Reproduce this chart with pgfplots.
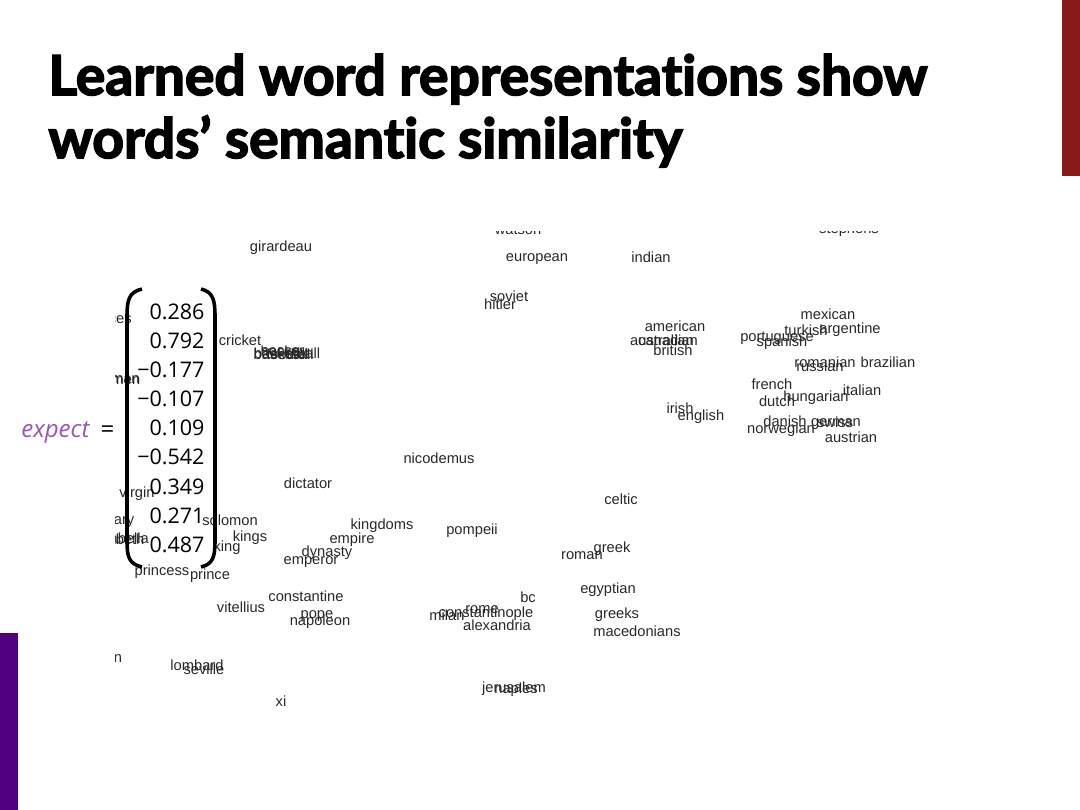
\documentclass[border=0pt]{standalone}
\usepackage{pgfplots}
\pgfplotsset{compat=1.18}
\usepackage{fontspec}
\setmainfont{Liberation Sans}
\newfontfamily\numfont{Open Sans}
\newfontfamily\titlefont[Ligatures={NoCommon}, BoldFeatures={FakeBold=3}]{Lato}
\definecolor{slidered}{RGB}{138,26,26}
\definecolor{slidepurple}{RGB}{80,0,128}
\definecolor{expectpurple}{RGB}{150,85,185}
\definecolor{wordgray}{RGB}{40,40,40}

% word positions in pixel coordinates (x, y from top)
\pgfplotstableread{
x y label
281 248 girardeau
518 230 watson
849 230 stephens
537 259 european
651 257 indian
509 296 soviet
500 304 hitler
675 326 american
662 340 australian
668 340 canadian
673 350 british
777 338 portuguese
782 343 spanish
828 314 mexican
806 330 turkish
850 330 argentine
825 362 romanian
820 366 russian
888 362 brazilian
772 384 french
862 390 italian
777 401 dutch
816 398 hungarian
680 408 irish
701 417 english
785 421 danish
835 422 swiss
836 424 german
781 430 norwegian
851 437 austrian
240 340 cricket
281 354 baseball
290 354 football
287 353 basketball
283 352 soccer
284 353 hockey
108 320 princes
116 380 woman
126 381 men
137 494 virgin
118 522 mary
124 538 isabella
115 539 elizabeth
230 520 solomon
250 538 kings
227 548 king
162 572 princess
210 576 prince
308 483 dictator
439 458 nicodemus
382 526 kingdoms
352 540 empire
327 553 dynasty
311 562 emperor
472 531 pompeii
621 499 celtic
612 549 greek
582 556 roman
608 590 egyptian
528 597 bc
306 596 constantine
241 607 vitellius
317 616 pope
320 622 napoleon
482 610 rome
447 615 milan
486 614 constantinople
497 625 alexandria
617 615 greeks
637 631 macedonians
100 657 london
197 665 lombard
204 669 seville
514 689 jerusalem
516 690 naples
281 701 xi
}\wordtable

\newcommand\matnum[2]{\node[anchor=east, inner sep=0pt, font=\numfont\fontsize{8.5}{10}\selectfont] at (axis cs:205,#2) {#1};}

\begin{document}
\begin{tikzpicture}
% canvas: 1080 x 810 px, y measured from the top
\begin{axis}[
    at={(0,0)}, anchor=south west,
    scale only axis, width=15cm, height=11.25cm,
    xmin=0, xmax=1080, ymin=0, ymax=810,
    y dir=reverse,
    hide axis, clip=false,
  ]
  % side bars
  \addplot[fill=slidered, draw=none] coordinates {(1062,0) (1080,0) (1080,176) (1062,176)} -- cycle;
  \addplot[fill=slidepurple, draw=none] coordinates {(0,633) (18,633) (18,810) (0,810)} -- cycle;
  % word cloud
  \addplot[draw=none, mark=none,
    nodes near coords, point meta=explicit symbolic,
    every node near coord/.style={anchor=center, inner sep=0pt, text=wordgray,
      font=\fontsize{5.8}{7}\selectfont}]
    table[x=x, y=y, meta=label] {\wordtable};
\end{axis}

% overlay: crop edges of the embedded picture, title, vector
\begin{axis}[
    at={(0,0)}, anchor=south west,
    scale only axis, width=15cm, height=11.25cm,
    xmin=0, xmax=1080, ymin=0, ymax=810,
    y dir=reverse,
    hide axis, clip=false,
  ]
  \fill[white] (axis cs:18,200) rectangle (axis cs:115,740);
  \fill[white] (axis cs:115,200) rectangle (axis cs:1060,231);
  \node[anchor=base west, inner sep=0pt, font=\titlefont\bfseries\fontsize{21.8}{25}\selectfont]
    at (axis cs:48,95) {Learned word representations show};
  \node[anchor=base west, inner sep=0pt, font=\titlefont\bfseries\fontsize{21.8}{25}\selectfont]
    at (axis cs:48,158) {words’ semantic similarity};
  \node[anchor=base east, inner sep=0pt, text=expectpurple, font=\numfont\itshape\fontsize{9.5}{11}\selectfont]
    at (axis cs:90,437) {expect};
  \node[anchor=base west, inner sep=0pt, font=\numfont\fontsize{9.5}{11}\selectfont]
    at (axis cs:100,437) {=};
  \matnum{0.286}{312}
  \matnum{0.792}{341}
  \matnum{−0.177}{370}
  \matnum{−0.107}{399}
  \matnum{0.109}{428}
  \matnum{−0.542}{457}
  \matnum{0.349}{487}
  \matnum{0.271}{516}
  \matnum{0.487}{545}
  \draw[line width=1.4pt] (axis cs:142,289) .. controls (axis cs:129,292) and (axis cs:127,300) .. (axis cs:127,316)
    -- (axis cs:127,541) .. controls (axis cs:127,557) and (axis cs:129,564) .. (axis cs:142,567);
  \draw[line width=1.4pt] (axis cs:201,289) .. controls (axis cs:213,292) and (axis cs:215,300) .. (axis cs:215,316)
    -- (axis cs:215,541) .. controls (axis cs:215,557) and (axis cs:213,564) .. (axis cs:201,567);
\end{axis}
\pgfresetboundingbox
\path (0,0) rectangle (15cm,11.25cm);
\end{tikzpicture}
\end{document}
